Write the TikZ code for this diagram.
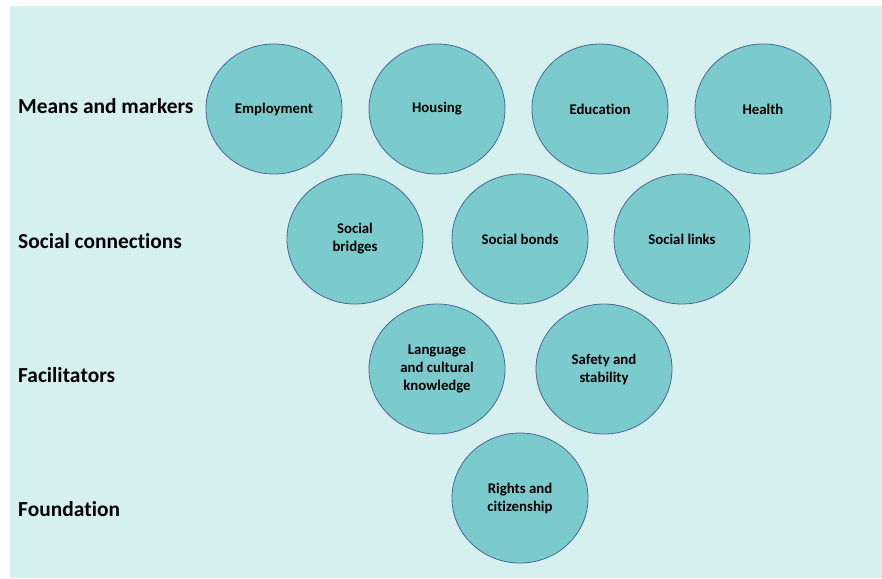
\documentclass[tikz,border=0pt]{standalone}
\usepackage{fontspec}
\setmainfont[Ligatures=NoCommon]{Carlito}
\usetikzlibrary{shapes.geometric}
\definecolor{bgc}{RGB}{213,240,239}
\definecolor{circfill}{RGB}{123,203,205}
\definecolor{circline}{RGB}{72,104,152}
\tikzset{
  bubble/.style={ellipse, draw=circline, line width=0.8pt, fill=circfill,
    minimum width=136pt, minimum height=130pt, inner sep=0pt,
    align=center, font=\fontsize{14.8}{18}\selectfont\bfseries, text=black},
  rowlabel/.style={anchor=west, inner sep=0pt, font=\fontsize{21.4}{26}\selectfont\bfseries, text=black}
}
\begin{document}
\begin{tikzpicture}[x=1pt,y=-1pt]
\useasboundingbox (0,0) rectangle (882,578);
\fill[white] (0,0) rectangle (882,578);
\fill[bgc] (10,6) rectangle (882,578);
% row 1
\node[bubble] (emp) at (274,109) {Employment};
\node[bubble] (hou) at (437,109) {Housing};
\node[bubble] (edu) at (600,109) {Educa\kern0pt tion};
\node[bubble] (hea) at (763,109) {Health};
% row 2
\node[bubble] (sbr) at (355,239) {Social\\bridges};
\node[bubble] (sbo) at (520,239) {Social bonds};
\node[bubble] (sli) at (682,239) {Social links};
% row 3
\node[bubble] (lan) at (437,369) {Language\\and cultural\\knowledge};
\node[bubble] (saf) at (604,369) {Safety and\\stability};
% row 4
\node[bubble] (rig) at (520,498) {Rights and\\citizenship};
% labels
\node[rowlabel] (l1) at (18,106) {Means and markers};
\node[rowlabel] (l2) at (18,241) {Social connec\kern0pt tions};
\node[rowlabel] (l3) at (18,375) {Facilita\kern0pt tors};
\node[rowlabel] (l4) at (18,509) {Founda\kern0pt tion};
\end{tikzpicture}
\end{document}
